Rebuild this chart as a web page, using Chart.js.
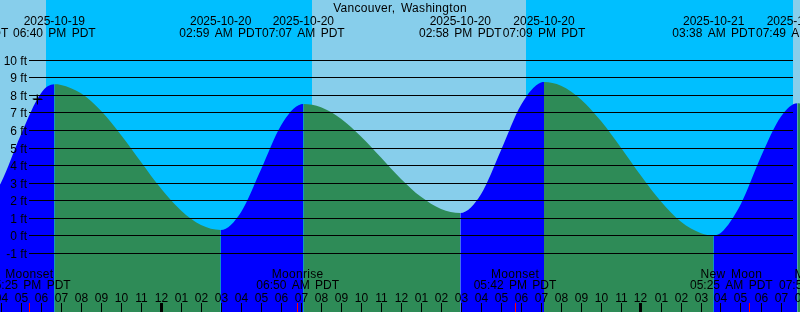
<!DOCTYPE html>
<html>
<head>
<meta charset="utf-8">
<script src="https://cdn.jsdelivr.net/npm/chart.js@4.4.0/dist/chart.umd.min.js"></script>
<style>
  html, body { margin: 0; padding: 0; background: #00BFFF; }
  #wrap { width: 800px; height: 312px; }
</style>
</head>
<body>
<div id="wrap"><canvas id="tideChart" width="800" height="312"></canvas></div>
<script>
// all times are hours counted from midnight 2025-10-20 (PDT)
const chartTitle = 'Vancouver, Washington';

// tide height (ft)
const tideHours = [-9.7, -9, -8, -7, -6, -5.333, -5, -4, -3, -2, -1, 0, 1, 2, 2.983,
  4, 5, 6, 7, 7.117, 8, 9, 10, 11, 12, 13, 14, 14.967,
  16, 17, 18, 19, 19.15, 20, 21, 22, 23, 24, 25, 26, 27, 27.633,
  28, 29, 30, 31, 31.817, 32, 33];
const tideFeet = [0.95, 1.25, 3.0, 5.75, 8.1, 8.6, 8.57, 8.09, 7.09, 5.72, 4.18, 2.66, 1.41, 0.58, 0.3,
  1.32, 3.75, 6.26, 7.47, 7.48, 7.29, 6.64, 5.63, 4.43, 3.21, 2.19, 1.5, 1.27,
  2.34, 4.84, 7.42, 8.71, 8.73, 8.52, 7.74, 6.51, 4.99, 3.39, 1.92, 0.77, 0.12, 0.0,
  0.14, 1.8, 4.49, 6.77, 7.52, 7.5, 7.2];

// high / low tide labels along the top
const extremeHours = [-9.7, -5.333, 2.983, 7.117, 14.967, 19.15, 27.633, 31.817];
const extremeDates = ['2025-10-19', '2025-10-19', '2025-10-20', '2025-10-20', '2025-10-20', '2025-10-20', '2025-10-21', '2025-10-21'];
const extremeTimes = ['02:18 PM PDT', '06:40 PM PDT', '02:59 AM PDT', '07:07 AM PDT', '02:58 PM PDT', '07:09 PM PDT', '03:38 AM PDT', '07:49 AM PDT'];

// daylight periods (sky blue), the rest is night
const dayStarts = [-8.05, 7.53, 31.58];
const dayEnds = [-5.75, 18.25, 31.95];

// moon events along the bottom
const moonHours = [-6.583, 6.833, 17.7, 29.417, 31.967];
const moonEvents = ['Moonset', 'Moonrise', 'Moonset', 'New Moon', 'Moonrise'];
const moonTimes = ['05:25 PM PDT', '06:50 AM PDT', '05:42 PM PDT', '05:25 AM PDT', '07:58 AM PDT'];

const hourTicks = [];
const hourLabels = ['04', '05', '06', '07', '08', '09', '10', '11', '12', '01', '02', '03',
  '04', '05', '06', '07', '08', '09', '10', '11', '12', '01', '02', '03',
  '04', '05', '06', '07', '08', '09', '10', '11', '12', '01', '02', '03',
  '04', '05', '06', '07', '08'];
for (let h = -8; h <= 32; h++) hourTicks.push(h);

const footTicks = [-1, 0, 1, 2, 3, 4, 5, 6, 7, 8, 9, 10];

// "now" mark
const markHour = [-6.19];
const markFeet = [7.77];

const RISING = '#0000FF';
const FALLING = '#2E8B57';
const FONT = '12px "Liberation Sans", Arial, sans-serif';

const tidePlugin = {
    id: 'tidePlot',
    beforeDatasetsDraw(chart) {
        const {ctx, chartArea: a, scales: {x}} = chart;
        ctx.save();
        ctx.fillStyle = '#00BFFF';
        ctx.fillRect(a.left, a.top, a.width, a.height);
        ctx.fillStyle = '#87CEEB';
        dayStarts.forEach((s, i) => {
            const x0 = Math.round(x.getPixelForValue(s));
            const x1 = Math.round(x.getPixelForValue(dayEnds[i]));
            ctx.fillRect(x0, a.top, x1 - x0, a.height);
        });
        ctx.restore();
    },
    afterDatasetsDraw(chart) {
        const {ctx, scales: {x, y}} = chart;
        ctx.save();
        ctx.font = FONT;
        ctx.fillStyle = '#000';
        ctx.strokeStyle = '#000';
        ctx.lineWidth = 1;

        // feet lines and labels
        footTicks.forEach(ft => {
            const py = Math.round(y.getPixelForValue(ft)) + 0.5;
            ctx.beginPath();
            ctx.moveTo(29, py);
            ctx.lineTo(793, py);
            ctx.stroke();
            ctx.textAlign = 'right';
            ctx.fillText(ft + ' ft', 27, py + 4);
        });

        // "now" cross, taken from the mark dataset's point
        chart.getDatasetMeta(1).data.forEach(pt => {
            const cx = Math.round(pt.x) + 0.5, cy = Math.round(pt.y) + 0.5;
            ctx.beginPath();
            ctx.moveTo(cx - 4, cy); ctx.lineTo(cx + 5, cy);
            ctx.moveTo(cx, cy - 4); ctx.lineTo(cx, cy + 5);
            ctx.stroke();
        });

        // title
        ctx.textAlign = 'center';
        ctx.wordSpacing = '2px';
        ctx.letterSpacing = '0.3px';
        ctx.fillText(chartTitle, 400, 12);
        ctx.letterSpacing = '0px';

        // tide extremes
        extremeHours.forEach((h, i) => {
            const px = x.getPixelForValue(h);
            ctx.fillText(extremeDates[i], px, 25);
            ctx.fillText(extremeTimes[i], px, 37);
        });

        // moon events (last two nudged apart like the original)
        const nudge = [0, 0, 0, -18, 20];
        moonHours.forEach((h, i) => {
            const px = x.getPixelForValue(h);
            ctx.letterSpacing = '0.3px';
            ctx.fillText(moonEvents[i], px + nudge[i], 278);
            ctx.letterSpacing = '0px';
            ctx.fillText(moonTimes[i], px + nudge[i], 289);
            ctx.fillStyle = '#FF0000';
            ctx.fillRect(Math.floor(px), 303, 1, 9);
            ctx.fillStyle = '#000';
        });

        // hour labels and ticks
        hourTicks.forEach((h, i) => {
            const px = Math.floor(x.getPixelForValue(h));
            ctx.fillText(hourLabels[i], px + 0.5, 302);
            if (h % 24 === 0) ctx.fillRect(px - 1, 303, 3, 9);
            else ctx.fillRect(px, 303, 1, 9);
        });
        ctx.restore();
    }
};

new Chart(document.getElementById('tideChart'), {
    type: 'line',
    data: {
        datasets: [{
            data: tideHours.map((h, i) => ({x: h, y: tideFeet[i]})),
            order: 1,
            borderWidth: 0,
            borderColor: 'rgba(0,0,0,0)',
            pointRadius: 0,
            fill: 'start',
            backgroundColor: FALLING,
            cubicInterpolationMode: 'monotone',
            segment: {
                backgroundColor: c => c.p1.parsed.y >= c.p0.parsed.y ? RISING : FALLING
            }
        }, {
            data: markHour.map((h, i) => ({x: h, y: markFeet[i]})),
            order: 0,
            showLine: false,
            fill: false,
            pointStyle: 'cross',
            pointRadius: 4.5,
            borderColor: '#000',
            borderWidth: 1
        }]
    },
    options: {
        responsive: false,
        animation: false,
        events: [],
        layout: { padding: 0, autoPadding: false },
        plugins: { legend: { display: false }, title: { display: false }, tooltip: { enabled: false } },
        scales: {
            x: { type: 'linear', display: false, min: -8.05, max: 31.95 },
            y: { display: false, min: -4.37, max: 13.407 }
        }
    },
    plugins: [tidePlugin]
});
</script>
</body>
</html>
